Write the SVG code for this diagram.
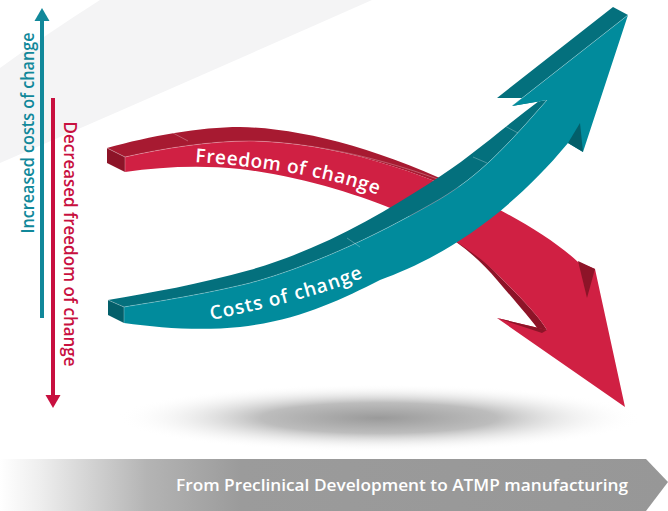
<svg xmlns="http://www.w3.org/2000/svg" width="668" height="511" viewBox="0 0 668 511">
  <defs>
    <style>
      .lbl { font-family: "Open Sans", "Noto Sans", "Liberation Sans", sans-serif; }
      .vteal { fill: #11889a; font-size: 18px; font-weight: 600; }
      .vred { fill: #c8103f; font-size: 18.5px; font-weight: 600; }
      .rib { fill: #ffffff; font-size: 19px; font-weight: 600; }
      .bottom { fill: #ffffff; font-size: 17px; font-weight: 600; }
      .tealFront { fill: #018b9c; }
      .tealTop { fill: #04707d; }
      .tealCap { fill: #035f6a; }
      .redFront { fill: #d02043; }
      .redTop { fill: #a71a31; }
      .redCap { fill: #8d1428; }
      .seam { stroke: #ffffff; stroke-opacity: 0.35; stroke-width: 0.8; fill: none; }
    </style>
    <linearGradient id="bandGrad" x1="0" y1="0" x2="668" y2="0" gradientUnits="userSpaceOnUse">
      <stop offset="0" stop-color="#ffffff"/>
      <stop offset="0.06" stop-color="#eeeeee"/>
      <stop offset="0.22" stop-color="#b4b4b4"/>
      <stop offset="0.36" stop-color="#9b9b9b"/>
      <stop offset="1" stop-color="#979797"/>
    </linearGradient>
    <radialGradient id="shadowGrad" cx="0.5" cy="0.5" r="0.5">
      <stop offset="0" stop-color="#9a9a9a"/>
      <stop offset="0.45" stop-color="#bdbdbd"/>
      <stop offset="1" stop-color="#ffffff" stop-opacity="0"/>
    </radialGradient>
    <path id="pFreedom" d="M195,162 Q312,170 378,195"/>
    <path id="pCosts" d="M211,320 Q322,297 366,276"/>
  </defs>

  <rect width="668" height="511" fill="#ffffff"/>

  <!-- background swoosh -->
  <path d="M100,0 Q45,35 0,68 L0,163 Q180,85 372,0 Z" fill="#f4f4f5"/>

  <!-- floor shadow -->
  <ellipse cx="379" cy="418" rx="262" ry="34" fill="url(#shadowGrad)"/>

  <!-- bottom band -->
  <g id="timeline">
    <path d="M0,459 H646 L668,482 L646,511 H0 Z" fill="url(#bandGrad)"/>
    <text class="lbl bottom" x="628" y="491" text-anchor="end" textLength="452" lengthAdjust="spacingAndGlyphs">From Preclinical Development to ATMP manufacturing</text>
  </g>

  <!-- vertical axis arrows -->
  <g id="axis-costs">
    <line x1="42" y1="318" x2="42" y2="18" stroke="#11889a" stroke-width="4"/>
    <path d="M42,8 L49.5,21 L34.5,21 Z" fill="#11889a"/>
    <text class="lbl vteal" transform="translate(34,133) rotate(-90)" text-anchor="middle" textLength="201" lengthAdjust="spacingAndGlyphs">Increased costs of change</text>
  </g>
  <g id="axis-freedom">
    <line x1="53" y1="98" x2="53" y2="398" stroke="#c8103f" stroke-width="4"/>
    <path d="M53,408 L60.5,395 L45.5,395 Z" fill="#c8103f"/>
    <text class="lbl vred" transform="translate(64,244) rotate(90)" text-anchor="middle" textLength="245" lengthAdjust="spacingAndGlyphs">Decreased freedom of change</text>
  </g>

  <!-- red ribbon arrow: Freedom of change -->
  <g id="freedom-arrow">
    <path class="redTop" d="M107,148 C150,136 200,127 240,127 C300,128 380,148 470,192 L500,210 C420,170 330,142 250,141 C210,141 165,148 125,157 Z"/>
    <path class="redCap" d="M107,148 L125,157 L125,172 L107,163 Z"/>
    <path class="redCap" d="M440,232 C462,244 482,262 497,280 C514,300 530,318 541,333 L547,330 C538,315 520,297 500,277 C480,255 462,242 446,233 Z"/>
    <path class="redFront" d="M125,157 C165,148 210,141 250,141 C330,142 420,170 500,210 C530,226 560,245 578,262 L595,269 L625,407 L497,318 L547,330 C538,315 520,297 500,277 C480,255 440,229 400,212 C360,195 300,176 240,169 C200,165 160,167 125,172 Z"/>
    <path class="redCap" d="M578,261 L595,269 L587,298 Z"/>
    <path d="M497,318 L547,330 L542,333 Z" fill="#8d1428"/>
    <path class="seam" d="M125,157 C165,148 210,141 250,141 C330,142 420,170 470,192"/>
    <path class="seam" d="M173,133 L188,141"/>
    <path class="seam" d="M107,148 L125,157 L125,172"/>
    <text class="lbl rib" letter-spacing="0.6"><textPath href="#pFreedom">Freedom of change</textPath></text>
  </g>

  <!-- teal ribbon arrow: Costs of change -->
  <g id="costs-arrow">
    <path class="tealTop" d="M108,300 C150,293 200,284 250,270 C320,250 380,215 430,183 C470,158 500,130 543,98 L497,98 L613,7 L628,15 L512,106 L547,100 C505,148 480,175 440,199 C390,228 320,264 250,283 C200,295 160,301 124,307 Z"/>
    <path class="tealCap" d="M108,300 L124,307 L124,323 L108,315 Z"/>
    <path class="tealFront" d="M124,307 C160,301 200,295 250,283 C320,264 390,228 440,199 C480,175 505,148 547,100 L512,106 L628,15 L583,152 L568,143 C500,225 430,262 380,280 C340,300 300,320 240,327 C200,331 160,328 124,323 Z"/>
    <path class="tealCap" d="M568,143 L580,123 L583,152 Z"/>
    <path class="seam" d="M124,307 C160,301 200,295 250,283 C320,264 390,228 440,199 C480,175 505,148 547,100"/>
    <path class="seam" d="M512,106 L628,15"/>
    <path class="seam" d="M347,238 L360,247 M473,157 L487,163 M503,125 L518,133"/>
    <path class="seam" d="M108,300 L124,307 L124,323"/>
    <text class="lbl rib" letter-spacing="1"><textPath href="#pCosts">Costs of change</textPath></text>
  </g>
</svg>
